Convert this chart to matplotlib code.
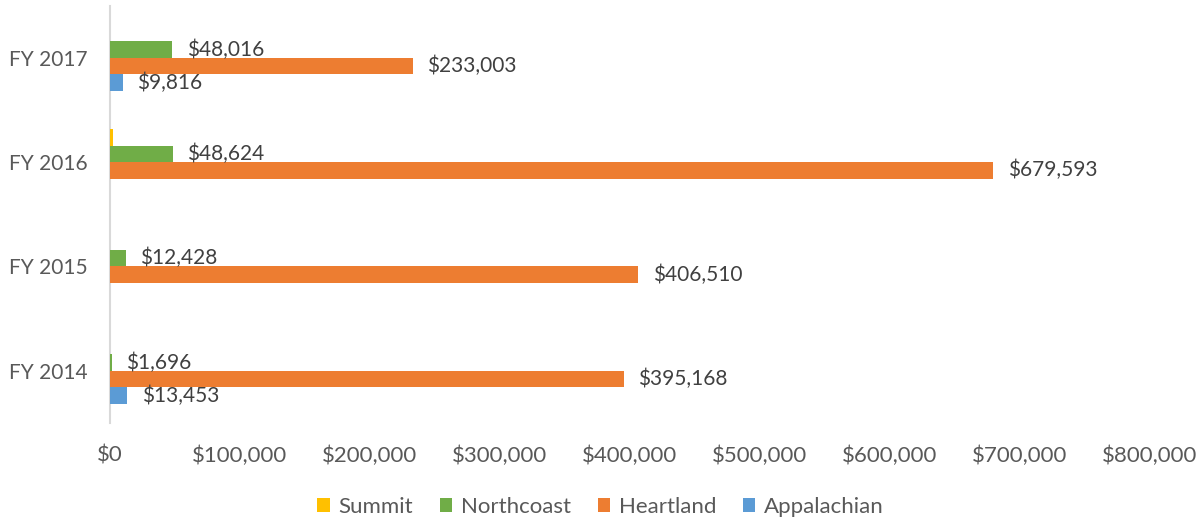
import numpy as np
import matplotlib
matplotlib.use("Agg")
import matplotlib.pyplot as plt
import matplotlib.ticker as mticker

# Data (bottom to top on the chart)
years = ["FY 2014", "FY 2015", "FY 2016", "FY 2017"]
series = ["Summit", "Northcoast", "Heartland", "Appalachian"]
colors = ["#FFC000", "#70AD47", "#ED7D31", "#5B9BD5"]

summit = [0, 0, 2000, 0]
northcoast = [1696, 12428, 48624, 48016]
heartland = [395168, 406510, 679593, 233003]
appalachian = [13453, 0, 0, 9816]
values = [summit, northcoast, heartland, appalachian]

# Which bars carry a value label
show_label = [
    [False, False, False, False],
    [True, True, True, True],
    [True, True, True, True],
    [True, False, False, True],
]

plt.rcParams["font.family"] = ["Lato", "DejaVu Sans"]
TXT = "#404040"

fig = plt.figure(figsize=(12.01, 5.22), dpi=100)
ax = fig.add_axes([110 / 1201, 1 - 423 / 522, 1040 / 1201, 417.5 / 522])

y = np.arange(len(years))
h = 0.158
offsets = [1.5 * h, 0.5 * h, -0.5 * h, -1.5 * h]

for vals, name, color, off, lab in zip(values, series, colors, offsets, show_label):
    ax.barh(y + off, vals, height=h, color=color, label=name, zorder=3)
    for yi, v, s in zip(y, vals, lab):
        if s and v > 0:
            ax.text(v + 11000, yi + off, f"${v:,}", va="center", ha="left",
                    fontsize=15, color=TXT, zorder=4)

ax.set_xlim(0, 800000)
ax.set_ylim(-0.5, 3.5)
ax.set_yticks(y)
ax.set_yticklabels(years)
ax.xaxis.set_major_locator(mticker.MultipleLocator(100000))
ax.xaxis.set_major_formatter(mticker.FuncFormatter(lambda v, p: f"${v:,.0f}"))
ax.tick_params(axis="x", length=0, labelsize=16, labelcolor="#595959", pad=16)
ax.tick_params(axis="y", length=0, labelsize=15, labelcolor="#595959", pad=16)

for side in ["top", "right", "bottom"]:
    ax.spines[side].set_visible(False)
ax.spines["left"].set_color("#D9D9D9")
ax.spines["left"].set_linewidth(1.5)

fig.legend(loc="center", bbox_to_anchor=(0.5, 1 - 507 / 522), ncol=4,
           frameon=False, fontsize=16, handlelength=0.55, handleheight=0.55,
           handletextpad=0.4, columnspacing=1.2, labelcolor="#595959")

fig.savefig("out.png", dpi=100)
